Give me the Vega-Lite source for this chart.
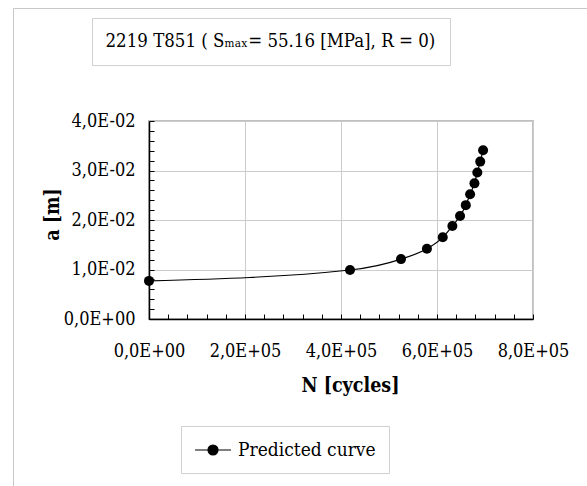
{
  "$schema": "https://vega.github.io/schema/vega-lite/v6.json",
  "width": 384,
  "height": 198,
  "autosize": {"type": "none"},
  "padding": {"left": 149, "top": 121, "right": 54, "bottom": 167},
  "background": "white",
  "config": {"font": "DejaVu Serif Condensed", "view": {"stroke": "#bfbfbf", "strokeWidth": 2},
    "axis": {"labelFont": "DejaVu Serif Condensed", "titleFont": "DejaVu Serif Condensed"},
    "legend": {"labelFont": "DejaVu Serif Condensed", "titleFont": "DejaVu Serif Condensed"}},
  "data": {"values": [
    {"N": 0, "a": 0.0077},
    {"N": 418750, "a": 0.0099},
    {"N": 525000, "a": 0.0121},
    {"N": 579000, "a": 0.0142},
    {"N": 612000, "a": 0.0165},
    {"N": 632000, "a": 0.0188},
    {"N": 648000, "a": 0.0208},
    {"N": 660000, "a": 0.0230},
    {"N": 669000, "a": 0.0252},
    {"N": 678000, "a": 0.0274},
    {"N": 684000, "a": 0.0296},
    {"N": 690000, "a": 0.0318},
    {"N": 696000, "a": 0.0341}
  ]},
  "encoding": {
    "x": {"field": "N", "type": "quantitative",
      "scale": {"domain": [0, 800000], "nice": false, "zero": false},
      "axis": {
        "values": [0,40000,80000,120000,160000,200000,240000,280000,320000,360000,400000,440000,480000,520000,560000,600000,640000,680000,720000,760000,800000],
        "labelExpr": "datum.value % 200000 == 0 ? (datum.value == 0 ? '0,0E+00' : replace(format(datum.value/100000, '.1f'), '.', ',') + 'E+05') : ''",
        "grid": true,
        "gridColor": "#cccccc",
        "gridOpacity": {"condition": {"test": "datum.value % 200000 == 0", "value": 1}, "value": 0},
        "tickSize": -5, "tickColor": "black", "tickWidth": 1,
        "domainColor": "black", "domainWidth": 1.5,
        "labelFont": "DejaVu Serif Condensed", "labelFontSize": 18, "labelColor": "black", "labelPadding": 28,
        "labelFlush": false, "labelOverlap": false,
        "title": "N [cycles]", "titleFont": "DejaVu Serif Condensed", "titleFontSize": 19.5, "titleFontWeight": "bold", "titleColor": "black",
        "titleX": 201, "titleY": 66, "titleBaseline": "middle", "titleAlign": "center"
      }},
    "y": {"field": "a", "type": "quantitative",
      "scale": {"domain": [0, 0.04], "nice": false, "zero": false},
      "axis": {
        "values": [0,0.002,0.004,0.006,0.008,0.01,0.012,0.014,0.016,0.018,0.02,0.022,0.024,0.026,0.028,0.03,0.032,0.034,0.036,0.038,0.04],
        "labelExpr": "abs(datum.value*100 - round(datum.value*100)) < 1e-6 ? (datum.value == 0 ? '0,0E+00' : replace(format(datum.value*100, '.1f'), '.', ',') + 'E-02') : ''",
        "grid": true,
        "gridColor": "#cccccc",
        "gridOpacity": {"condition": {"test": "abs(datum.value*100 - round(datum.value*100)) < 1e-6", "value": 1}, "value": 0},
        "tickSize": -5, "tickColor": "black", "tickWidth": 1,
        "domainColor": "black", "domainWidth": 1.5,
        "labelFont": "DejaVu Serif Condensed", "labelFontSize": 18, "labelColor": "black", "labelPadding": 19,
        "labelFlush": false, "labelOverlap": false,
        "title": "a [m]", "titleFont": "DejaVu Serif Condensed", "titleFontSize": 19.5, "titleFontWeight": "bold", "titleColor": "black",
        "titleX": -97, "titleY": 93, "titleBaseline": "middle", "titleAlign": "center"
      }}
  },
  "layer": [
    {
      "mark": {"type": "line", "interpolate": "monotone", "strokeWidth": 1.2},
      "encoding": {
        "color": {"datum": "Predicted curve", "type": "nominal", "scale": {"range": ["black"]},
          "legend": {
            "orient": "none", "legendX": 32, "legendY": 305, "title": null,
            "strokeColor": "#d0d0d0", "padding": 13,
            "symbolType": "M-1.8,0H1.8M-0.5,0A0.5,0.5,0,1,1,0.5,0A0.5,0.5,0,1,1,-0.5,0Z",
            "symbolSize": 400, "symbolFillColor": "black", "symbolStrokeColor": "black", "symbolStrokeWidth": 1.2,
            "symbolOffset": 8, "labelOffset": 14, "labelFont": "DejaVu Serif Condensed", "labelFontSize": 19, "labelColor": "black", "labelLimit": 1000,
            "labelExpr": "datum.label + '\u00a0\u00a0\u00a0\u00a0\u00a0\u00a0\u00a0\u00a0\u00a0\u00a0\u00a0\u00a0\u00a0\u00a0\u00a0'"
          }}
      }
    },
    {
      "mark": {"type": "point", "filled": true, "size": 100, "opacity": 1},
      "encoding": {"color": {"datum": "Predicted curve", "type": "nominal"}}
    },
    {
      "mark": {"type": "point", "opacity": 0},
      "encoding": {
        "shape": {"datum": "2219 T851 ( Sₘₐₓ= 55.16 [MPa], R = 0)", "type": "nominal",
          "legend": {
            "orient": "none", "legendX": -57, "legendY": -103, "title": null,
            "strokeColor": "#d0d0d0", "padding": 14,
            "symbolSize": 0, "symbolOpacity": 0, "labelOffset": -19,
            "labelFont": "DejaVu Serif Condensed", "labelFontSize": 18.5, "labelColor": "black", "labelLimit": 1000
          }}
      }
    },
    {
      "mark": {"type": "line", "opacity": 0},
      "encoding": {
        "strokeDash": {"datum": "frame", "type": "nominal",
          "legend": {
            "orient": "none", "legendX": -136, "legendY": -113, "title": null,
            "strokeColor": "#c8c8c8", "padding": 246.5,
            "symbolSize": 11236, "symbolOpacity": 0, "labelOffset": 0,
            "labelExpr": "''", "labelFontSize": 1
          }}
      }
    }
  ]
}
